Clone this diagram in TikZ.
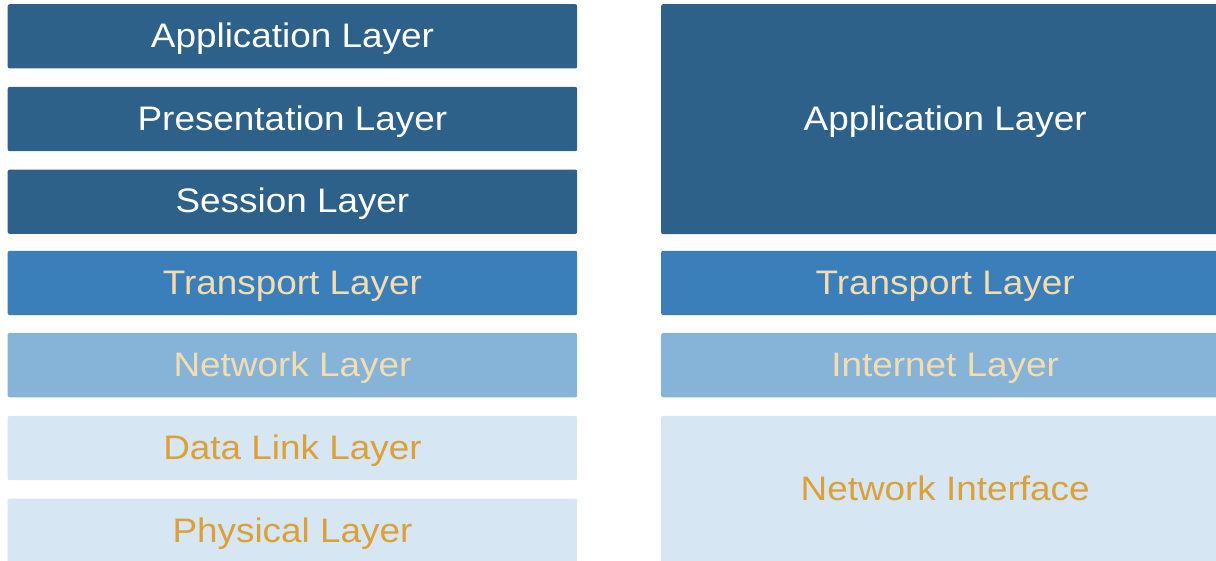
\documentclass[tikz,border=0pt]{standalone}
\usepackage{fontspec}
\setmainfont{Liberation Sans}[FakeStretch=1.085]
\definecolor{cDark}{HTML}{2D6189}
\definecolor{cMid}{HTML}{3A7FBA}
\definecolor{cLight}{HTML}{86B4D9}
\definecolor{cPale}{HTML}{D6E6F3}
\definecolor{tBeige}{HTML}{F3DDB0}
\definecolor{tOrange}{HTML}{DCA03A}
\begin{document}
\begin{tikzpicture}[x=1pt,y=-1pt,
  layerbox/.style={rectangle, rounded corners=2pt, inner sep=0pt, anchor=north west,
    font=\fontsize{34pt}{38pt}\selectfont, text height=22.5pt, text depth=0pt, align=center},
  leftbox/.style={layerbox, minimum width=569.5pt, minimum height=64.3pt},
  rightbox/.style={layerbox, minimum width=568pt},
  dark/.style={fill=cDark, text=white},
  mid/.style={fill=cMid, text=tBeige},
  light/.style={fill=cLight, text=tBeige},
  pale/.style={fill=cPale, text=tOrange}]
\useasboundingbox (0,0) rectangle (1216,561);
\clip (0,0) rectangle (1216,561);
% OSI model (left)
\node[leftbox, dark]  (app)  at (7.5,4)     {Application Layer};
\node[leftbox, dark]  (pres) at (7.5,86.7)  {Presentation Layer};
\node[leftbox, dark]  (sess) at (7.5,169.4) {Session Layer};
\node[leftbox, mid]   (trn)  at (7.5,250.6) {Transport Layer};
\node[leftbox, light] (net)  at (7.5,332.8) {Network Layer};
\node[leftbox, pale]  (dll)  at (7.5,415.7) {Data Link Layer};
\node[leftbox, pale]  (phy)  at (7.5,498.5) {Physical Layer};
% TCP/IP model (right)
\node[rightbox, dark,  minimum height=230pt]   (tapp) at (661,4)     {Application Layer};
\node[rightbox, mid,   minimum height=64.3pt]  (ttrn) at (661,250.6) {Transport Layer};
\node[rightbox, light, minimum height=64.3pt]  (tint) at (661,332.8) {Internet Layer};
\node[rightbox, pale,  minimum height=147.3pt] (tnif) at (661,415.7) {Network Interface};
\end{tikzpicture}
\end{document}
